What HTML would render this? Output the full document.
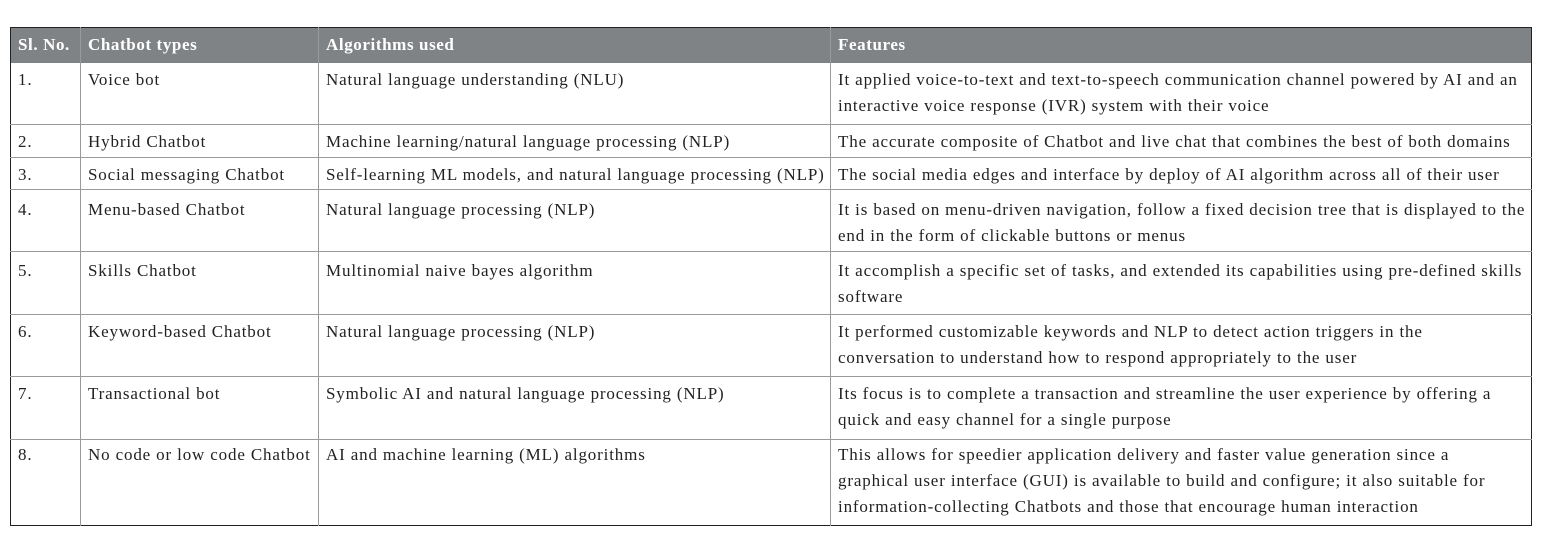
<!DOCTYPE html>
<html><head><meta charset="utf-8"><style>
html,body{margin:0;padding:0;background:#fff;width:1550px;height:559px;overflow:hidden}
.t{position:absolute;left:10px;top:27px;width:1522px;height:499px;border:1px solid #222;box-sizing:border-box}
.hdr{position:absolute;left:10px;top:27px;width:1522px;height:36px;background:#808386}
.c{position:absolute;font-family:"Liberation Serif",serif;font-size:17px;letter-spacing:0.85px;line-height:26px;color:#222;white-space:nowrap}
.h{color:#fff;font-weight:bold;top:32px;letter-spacing:0.6px}
.vl{position:absolute;width:1px;background:#9a9a9a;top:27px;height:499px}
.hl{position:absolute;height:1px;background:#9a9a9a;left:10px;width:1522px}
</style></head><body>
<div class="hdr"></div>
<div class="t"></div>
<div class="vl" style="left:80px"></div>
<div class="vl" style="left:318px"></div>
<div class="vl" style="left:830px"></div>
<div class="hl" style="top:124px"></div>
<div class="hl" style="top:157px"></div>
<div class="hl" style="top:189px"></div>
<div class="hl" style="top:251px"></div>
<div class="hl" style="top:314px"></div>
<div class="hl" style="top:376px"></div>
<div class="hl" style="top:439px"></div>

<div class="c h" style="left:18px">Sl. No.</div>
<div class="c h" style="left:88px">Chatbot types</div>
<div class="c h" style="left:326px">Algorithms used</div>
<div class="c h" style="left:838px">Features</div>

<div>
<div class="c" style="left:18px;top:67px">1.</div>
<div class="c" style="left:88px;top:67px">Voice bot</div>
<div class="c" style="left:326px;top:67px">Natural language understanding (NLU)</div>
<div class="c" style="left:838px;top:67px">It applied voice-to-text and text-to-speech communication channel powered by AI and an<br>interactive voice response (IVR) system with their voice</div>
</div>
<div>
<div class="c" style="left:18px;top:129px">2.</div>
<div class="c" style="left:88px;top:129px">Hybrid Chatbot</div>
<div class="c" style="left:326px;top:129px">Machine learning/natural language processing (NLP)</div>
<div class="c" style="left:838px;top:129px">The accurate composite of Chatbot and live chat that combines the best of both domains</div>
</div>
<div>
<div class="c" style="left:18px;top:162px">3.</div>
<div class="c" style="left:88px;top:162px">Social messaging Chatbot</div>
<div class="c" style="left:326px;top:162px">Self-learning ML models, and natural language processing (NLP)</div>
<div class="c" style="left:838px;top:162px">The social media edges and interface by deploy of AI algorithm across all of their user</div>
</div>
<div>
<div class="c" style="left:18px;top:197px">4.</div>
<div class="c" style="left:88px;top:197px">Menu-based Chatbot</div>
<div class="c" style="left:326px;top:197px">Natural language processing (NLP)</div>
<div class="c" style="left:838px;top:197px">It is based on menu-driven navigation, follow a fixed decision tree that is displayed to the<br>end in the form of clickable buttons or menus</div>
</div>
<div>
<div class="c" style="left:18px;top:258px">5.</div>
<div class="c" style="left:88px;top:258px">Skills Chatbot</div>
<div class="c" style="left:326px;top:258px">Multinomial naive bayes algorithm</div>
<div class="c" style="left:838px;top:258px">It accomplish a specific set of tasks, and extended its capabilities using pre-defined skills<br>software</div>
</div>
<div>
<div class="c" style="left:18px;top:319px">6.</div>
<div class="c" style="left:88px;top:319px">Keyword-based Chatbot</div>
<div class="c" style="left:326px;top:319px">Natural language processing (NLP)</div>
<div class="c" style="left:838px;top:319px">It performed customizable keywords and NLP to detect action triggers in the<br>conversation to understand how to respond appropriately to the user</div>
</div>
<div>
<div class="c" style="left:18px;top:381px">7.</div>
<div class="c" style="left:88px;top:381px">Transactional bot</div>
<div class="c" style="left:326px;top:381px">Symbolic AI and natural language processing (NLP)</div>
<div class="c" style="left:838px;top:381px">Its focus is to complete a transaction and streamline the user experience by offering a<br>quick and easy channel for a single purpose</div>
</div>
<div>
<div class="c" style="left:18px;top:442px">8.</div>
<div class="c" style="left:88px;top:442px">No code or low code Chatbot</div>
<div class="c" style="left:326px;top:442px">AI and machine learning (ML) algorithms</div>
<div class="c" style="left:838px;top:442px">This allows for speedier application delivery and faster value generation since a<br>graphical user interface (GUI) is available to build and configure; it also suitable for<br>information-collecting Chatbots and those that encourage human interaction</div>
</div>
</body></html>
